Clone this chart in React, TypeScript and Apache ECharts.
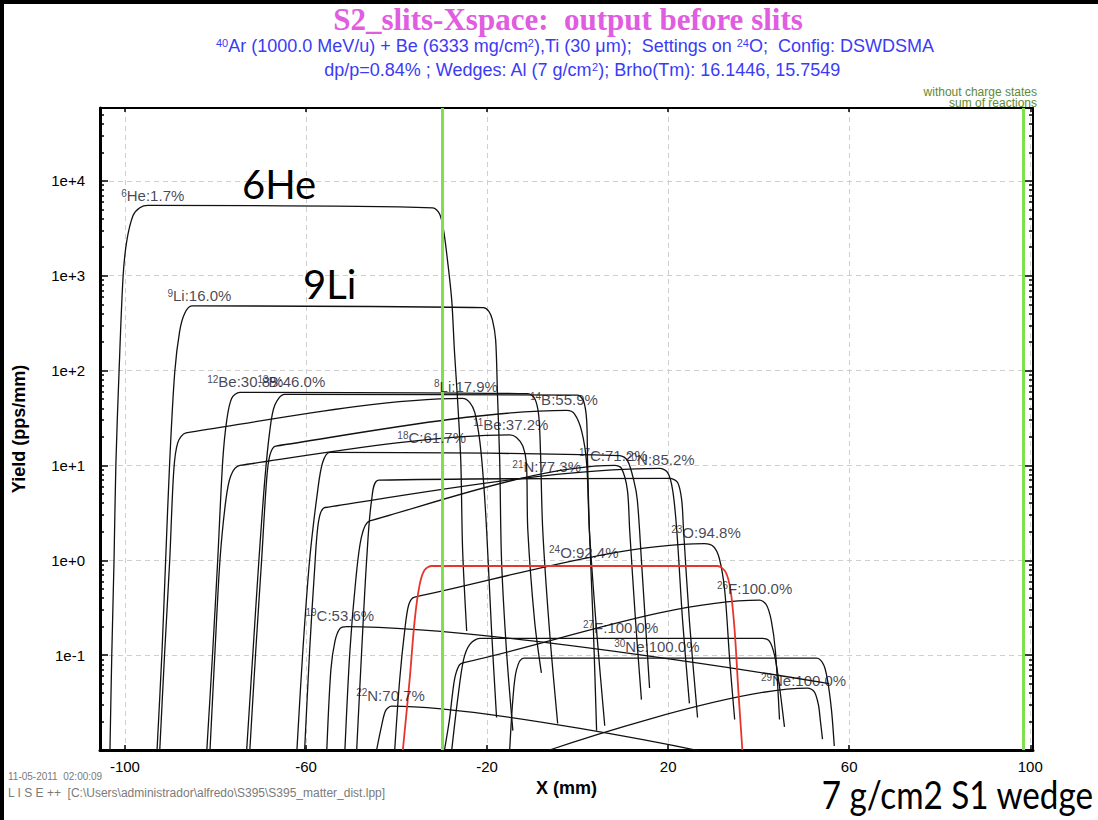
import React, { useEffect, useRef } from 'react';
import * as echarts from 'echarts';

// ---------- axes ----------
const X_MIN = -105.5;
const X_MAX = 100.6;
const X_TICKS = [-100, -60, -20, 20, 60, 100];
const Y_MIN = 0.01;
const Y_MAX = 58600;
const Y_MAJOR = [0.1, 1, 10, 100, 1000, 10000];
const SLIT_X = [-30, 98.5];

// ---------- isotope distributions: [X (mm), yield (pps/mm)] ----------
const HE6 = [[-103.3, 0.01], [-102.9, 0.1], [-102.4, 1], [-102.0, 10], [-101.3, 95], [-100.4, 980], [-99.6, 2300], [-98.2, 4300], [-96.7, 5200], [-94.9, 5500], [-32.0, 5200], [-30.5, 4500], [-29.6, 3000], [-28.7, 1400], [-27.8, 550], [-27.2, 160], [-26.5, 48], [-25.8, 11], [-25.4, 1.3], [-24.5, 0.18]];
const LI9 = [[-92.9, 0.01], [-91.8, 0.11], [-91.0, 1], [-90.1, 11], [-89.0, 95], [-87.9, 260], [-86.8, 400], [-85.2, 480], [-20.8, 460], [-19.6, 420], [-18.8, 340], [-18.1, 210], [-17.7, 57], [-17.2, 11], [-16.8, 1], [-15.7, 0.11], [-14.3, 0.016]];
const LI8 = [[-92.3, 0.01], [-91.2, 0.11], [-90.1, 1], [-89.2, 8.9], [-88.3, 17.5], [-86.5, 22], [-25.4, 51], [-23.8, 46], [-22.7, 36], [-21.6, 18], [-20.8, 7], [-20.1, 2.1], [-19.0, 0.18], [-17.9, 0.022]];
const BE12 = [[-81.9, 0.01], [-80.6, 0.11], [-79.5, 1], [-78.4, 11], [-77.5, 30], [-76.4, 51], [-74.6, 59], [-11.0, 57], [-9.5, 51], [-8.6, 34], [-8.2, 14], [-7.7, 2.1], [-6.2, 0.18], [-4.4, 0.019]];
const BE11 = [[-81.2, 0.01], [-80.1, 0.11], [-79.0, 1], [-77.7, 4.3], [-76.6, 7.8], [-74.6, 10], [-15.0, 21], [-13.5, 19.7], [-12.1, 16], [-11.3, 10.5], [-11.0, 2.1], [-9.5, 0.23], [-8.0, 0.065]];
const B13 = [[-73.1, 0.01], [-71.7, 0.11], [-70.4, 1], [-69.1, 7], [-68.0, 23], [-66.9, 43], [-64.7, 56], [0.0, 55], [1.3, 48], [2.0, 30], [2.2, 11], [2.6, 2.1], [3.5, 0.18], [4.2, 0.016]];
const B14 = [[-72.4, 0.01], [-71.1, 0.11], [-69.8, 1], [-68.7, 7], [-68.0, 12.7], [-66.7, 16], [-2.4, 38], [-0.7, 35], [0.9, 23], [2.0, 10.5], [2.6, 2.1], [4.2, 0.18], [6.0, 0.018]];
const C18 = [[-62.0, 0.01], [-60.7, 0.11], [-59.2, 1], [-57.4, 5.5], [-56.3, 10.8], [-54.7, 13.7], [9.3, 12.7], [11.0, 11.3], [12.4, 7], [13.2, 4.3], [14.1, 1], [15.9, 0.045]];
const C17 = [[-51.4, 0.01], [-50.3, 0.11], [-49.0, 0.62], [-47.7, 1.8], [-45.9, 2.6], [8.2, 10], [9.7, 9.3], [11.0, 5.5], [11.5, 2.1], [12.8, 0.23], [14.1, 0.034]];
const N20 = [[-60.3, 0.01], [-59.2, 0.11], [-58.1, 0.79], [-57.2, 2.6], [-55.8, 3.6], [18.1, 9.3], [19.9, 8.4], [21.0, 5.5], [21.9, 2.1], [23.2, 0.23], [24.7, 0.031]];
const N21 = [[-48.8, 0.01], [-47.7, 0.11], [-46.6, 1], [-45.5, 4.3], [-43.9, 7], [20.3, 7.3], [22.1, 6.6], [23.0, 4.3], [23.4, 2.1], [24.7, 0.23], [26.5, 0.022]];
const C19 = [[-55.4, 0.01], [-54.5, 0.07], [-53.6, 0.14], [-52.5, 0.19], [-51.0, 0.2], [55.6, 0.05]];
const N22 = [[-44.4, 0.01], [-43.3, 0.018], [-42.4, 0.026], [-41.1, 0.029], [26.9, 0.0098]];
const O23 = [[-40.4, 0.01], [-39.3, 0.055], [-38.2, 0.18], [-37.3, 0.34], [-36.0, 0.41], [28.0, 1.5], [30.0, 1.4], [31.3, 1.05], [32.5, 0.48], [33.6, 0.089], [34.7, 0.021]];
const F26 = [[-29.4, 0.01], [-28.3, 0.021], [-27.2, 0.055], [-26.1, 0.079], [-24.9, 0.084], [40.2, 0.38], [41.7, 0.34], [42.8, 0.23], [43.7, 0.11], [44.6, 0.021]];
const F27 = [[-27.8, 0.01], [-26.5, 0.034], [-25.2, 0.089], [-23.8, 0.13], [-21.6, 0.15], [40.8, 0.15], [42.4, 0.14], [43.5, 0.1], [44.4, 0.055], [45.7, 0.0175]];
const NE30 = [[-15.0, 0.01], [-14.3, 0.034], [-13.5, 0.07], [-11.9, 0.093], [52.8, 0.093], [54.3, 0.08], [55.2, 0.055], [56.1, 0.026], [56.7, 0.011]];
const NE29 = [[-6.2, 0.01], [50.8, 0.045], [52.3, 0.041], [53.2, 0.03], [53.6, 0.021], [54.1, 0.013]];
// setting fragment (drawn red)
const O24 = [[-38.6, 0.01], [-37.1, 0.055], [-36.0, 0.23], [-34.9, 0.55], [-33.8, 0.79], [-32.2, 0.87], [30.9, 0.87], [32.7, 0.75], [33.8, 0.48], [34.7, 0.18], [35.5, 0.043], [36.4, 0.01]];

const BLACK_CURVES = [
  { name: '6He', data: HE6 }, { name: '9Li', data: LI9 }, { name: '8Li', data: LI8 },
  { name: '12Be', data: BE12 }, { name: '11Be', data: BE11 }, { name: '13B', data: B13 },
  { name: '14B', data: B14 }, { name: '18C', data: C18 }, { name: '17C', data: C17 },
  { name: '20N', data: N20 }, { name: '21N', data: N21 }, { name: '19C', data: C19 },
  { name: '22N', data: N22 }, { name: '23O', data: O23 }, { name: '26F', data: F26 },
  { name: '27F', data: F27 }, { name: '30Ne', data: NE30 }, { name: '29Ne', data: NE29 },
];

// isotope labels: mass number, rest of text, anchor X, anchor yield
const ISO_MASS = ['6', '9', '12', '13', '8', '14', '11', '18', '17', '20', '21', '23', '24', '26', '27', '30', '29', '19', '22'];
const ISO_TEXT = ['He:1.7%', 'Li:16.0%', 'Be:30.8%', 'B:46.0%', 'Li:17.9%', 'B:55.9%', 'Be:37.2%', 'C:61.7%', 'C:71.2%', 'N:85.2%', 'N:77.3%', 'O:94.8%', 'O:92.4%', 'F:100.0%', 'F:100.0%', 'Ne:100.0%', 'Ne:100.0%', 'C:53.6%', 'N:70.7%'];
const ISO_X = [-100.7, -90.5, -81.7, -70.6, -31.6, -10.4, -23.0, -39.7, 0.4, 10.8, -14.3, 20.8, -6.2, 30.9, 1.3, 8.2, 40.6, -60.0, -48.8];
const ISO_Y = [5730, 507, 63, 63, 56, 41, 22, 16.2, 10.5, 9.5, 8.0, 1.62, 1.0, 0.42, 0.162, 0.1025, 0.045, 0.217, 0.031];

const FONT = 'Liberation Sans';

function buildOption(): any {
  const yLogMax = Math.log10(Y_MAX);
  const minorLog: number[] = [];
  for (let e = -2; e <= 4; e++) {
    for (let k = 2; k <= 9; k++) {
      const v = k * Math.pow(10, e);
      if (v <= Y_MAX) minorLog.push(Math.log10(v));
    }
  }
  const majorLog = Y_MAJOR.map((v) => Math.log10(v));
  const tickLine = { color: '#000', width: 1.5 };
  const grid = { color: '#cfcfcf', type: [5, 4], width: 1 };

  const lineSeries = BLACK_CURVES.map((c) => ({
    type: 'line', name: c.name, data: c.data, xAxisIndex: 0, yAxisIndex: 0,
    symbol: 'none', showSymbol: false, smooth: 0.3, silent: true, z: 2,
    lineStyle: { color: '#111', width: 1.3 },
  }));

  const middle = { textVerticalAlign: 'middle', verticalAlign: 'middle' };

  return {
    animation: false,
    backgroundColor: '#fff',
    grid: { left: 100, right: 65, top: 108, bottom: 70, containLabel: false },
    xAxis: [
      {
        type: 'value', min: X_MIN, max: X_MAX, position: 'bottom',
        axisLine: { show: true, onZero: false, lineStyle: { color: '#000', width: 3 } },
        axisTick: { show: true, inside: true, length: 5, customValues: X_TICKS, lineStyle: tickLine },
        axisLabel: { customValues: X_TICKS, color: '#000', fontSize: 15, fontFamily: FONT, margin: 9 },
        splitLine: { show: true, lineStyle: grid },
        name: 'X (mm)', nameLocation: 'middle', nameGap: 27,
        nameTextStyle: { fontWeight: 'bold', fontSize: 18, color: '#000', fontFamily: FONT },
      },
      {
        type: 'value', min: X_MIN, max: X_MAX, position: 'top',
        axisLine: { show: true, onZero: false, lineStyle: { color: '#000', width: 2 } },
        axisTick: { show: true, inside: true, length: 4, customValues: X_TICKS, lineStyle: tickLine },
        axisLabel: { show: false }, splitLine: { show: false },
      },
    ],
    yAxis: [
      {
        type: 'log', logBase: 10, min: Y_MIN, max: Y_MAX, position: 'left',
        axisLine: { show: true, onZero: false, lineStyle: { color: '#000', width: 3 } },
        axisTick: { show: true, inside: true, length: 8, lineStyle: tickLine },
        axisLabel: {
          color: '#000', fontSize: 15, fontFamily: FONT, margin: 15,
          formatter: (v: number) => {
            const e = Math.log10(v);
            const r = Math.round(e);
            if (Math.abs(e - r) > 1e-6 || r < -1) return '';
            return '1e' + (r >= 0 ? '+' : '-') + Math.abs(r);
          },
        },
        splitLine: { show: true, lineStyle: grid },
        name: 'Yield (pps/mm)', nameLocation: 'middle', nameGap: 72, nameRotate: 90,
        nameTextStyle: { fontWeight: 'bold', fontSize: 18, color: '#000', fontFamily: FONT },
      },
      {
        type: 'value', min: -2, max: yLogMax, position: 'left',
        axisLine: { show: false, onZero: false },
        axisTick: { show: true, inside: true, length: 4, customValues: minorLog, lineStyle: tickLine },
        axisLabel: { show: false }, splitLine: { show: false },
      },
      {
        type: 'value', min: -2, max: yLogMax, position: 'right',
        axisLine: { show: true, onZero: false, lineStyle: { color: '#000', width: 2 } },
        axisTick: { show: true, inside: true, length: 8, customValues: majorLog, lineStyle: tickLine },
        axisLabel: { show: false }, splitLine: { show: false },
      },
      {
        type: 'value', min: -2, max: yLogMax, position: 'right',
        axisLine: { show: false, onZero: false },
        axisTick: { show: true, inside: true, length: 4, customValues: minorLog, lineStyle: tickLine },
        axisLabel: { show: false }, splitLine: { show: false },
      },
    ],
    series: [
      ...lineSeries,
      {
        type: 'line', name: '24O', data: O24, xAxisIndex: 0, yAxisIndex: 0,
        symbol: 'none', showSymbol: false, smooth: 0.3, silent: true, z: 3,
        lineStyle: { color: '#e8352b', width: 1.8 },
      },
      {
        type: 'line', name: 'slits', data: [], xAxisIndex: 0, yAxisIndex: 0, z: 4, silent: true,
        markLine: {
          silent: true, symbol: ['none', 'none'], label: { show: false },
          lineStyle: { color: '#7ee04c', width: 3, type: 'solid' },
          data: SLIT_X.map((x) => ({ xAxis: x })),
        },
      },
      {
        type: 'scatter', name: 'labels', xAxisIndex: 0, yAxisIndex: 0, z: 6, silent: true,
        symbolSize: 1, itemStyle: { color: 'rgba(0,0,0,0)' },
        data: ISO_X.map((x, i) => ({ value: [x, ISO_Y[i]], m: ISO_MASS[i], t: ISO_TEXT[i] })),
        label: {
          show: true, position: [0, 0], align: 'left', verticalAlign: 'bottom',
          formatter: (p: any) => `{m|${p.data.m}}{t|${p.data.t}}`,
          rich: {
            m: { fontSize: 10, fontFamily: FONT, color: '#15152a', verticalAlign: 'top' },
            t: { fontSize: 15, fontFamily: FONT, color: '#15152a', verticalAlign: 'bottom' },
          },
        },
      },
    ],
    graphic: [
      { type: 'rect', shape: { x: 0, y: 0, width: 1098, height: 4 }, style: { fill: '#000' }, z: 100 },
      { type: 'rect', shape: { x: 0, y: 0, width: 4, height: 820 }, style: { fill: '#000' }, z: 100 },
      {
        type: 'text', x: 568, y: 19, z: 100,
        style: {
          text: 'S2_slits-Xspace:  output before slits', fontFamily: 'Liberation Serif', fontWeight: 'bold',
          fontSize: 31, fill: '#e05ce0', textAlign: 'center', align: 'center', ...middle,
        },
      },
      {
        type: 'text', x: 575, y: 46, z: 100,
        style: {
          text: '{s|40}{n|Ar (1000.0 MeV/u) + Be (6333 mg/cm}{s|2}{n|),Ti (30 μm);  Settings on }{s|24}{n|O;  Config: DSWDSMA}',
          rich: {
            s: { fontSize: 11, fontFamily: FONT, fill: '#3b3bf5', verticalAlign: 'top' },
            n: { fontSize: 18, fontFamily: FONT, fill: '#3b3bf5', verticalAlign: 'bottom' },
          },
          textAlign: 'center', align: 'center', ...middle,
        },
      },
      {
        type: 'text', x: 582, y: 70, z: 100,
        style: {
          text: '{n|dp/p=0.84% ; Wedges: Al (7 g/cm}{s|2}{n|); Brho(Tm): 16.1446, 15.7549}',
          rich: {
            s: { fontSize: 11, fontFamily: FONT, fill: '#3b3bf5', verticalAlign: 'top' },
            n: { fontSize: 18, fontFamily: FONT, fill: '#3b3bf5', verticalAlign: 'bottom' },
          },
          textAlign: 'center', align: 'center', ...middle,
        },
      },
      {
        type: 'text', x: 1037, y: 92, z: 100,
        style: { text: 'without charge states', fontSize: 12, fontFamily: FONT, fill: '#5f8a2f', textAlign: 'right', align: 'right', ...middle },
      },
      {
        type: 'text', x: 1037, y: 103, z: 100,
        style: { text: 'sum of reactions', fontSize: 12, fontFamily: FONT, fill: '#5f8a2f', textAlign: 'right', align: 'right', ...middle },
      },
      {
        type: 'text', x: 8, y: 776, z: 100,
        style: { text: '11-05-2011  02:00:09', fontSize: 10, fontFamily: FONT, fill: '#7a7a7a', ...middle },
      },
      {
        type: 'text', x: 8, y: 793, z: 100,
        style: { text: 'L I S E ++  [C:\\Users\\administrador\\alfredo\\S395\\S395_matter_dist.lpp]', fontSize: 12, fontFamily: FONT, fill: '#7a7a7a', ...middle },
      },
      {
        type: 'text', x: 242, y: 184, z: 100,
        style: { text: '6He', fontSize: 40, fontFamily: 'Lato', fill: '#000', ...middle },
      },
      {
        type: 'text', x: 303, y: 284, z: 100,
        style: { text: '9Li', fontSize: 40, fontFamily: 'Lato', fill: '#000', ...middle },
      },
      {
        type: 'text', x: 1093, y: 795, z: 100, scaleX: 0.875,
        style: { text: '7 g/cm2 S1 wedge', fontSize: 38, fontFamily: 'Lato', fill: '#000', textAlign: 'right', align: 'right', ...middle },
      },
    ],
  };
}

export default function App() {
  const ref = useRef<HTMLDivElement>(null);
  useEffect(() => {
    document.body.style.margin = '0';
    const chart = echarts.init(ref.current as HTMLDivElement, null, { renderer: 'svg' });
    chart.setOption(buildOption());
    return () => chart.dispose();
  }, []);
  return <div ref={ref} style={{ width: 1098, height: 820, background: '#fff' }} />;
}
